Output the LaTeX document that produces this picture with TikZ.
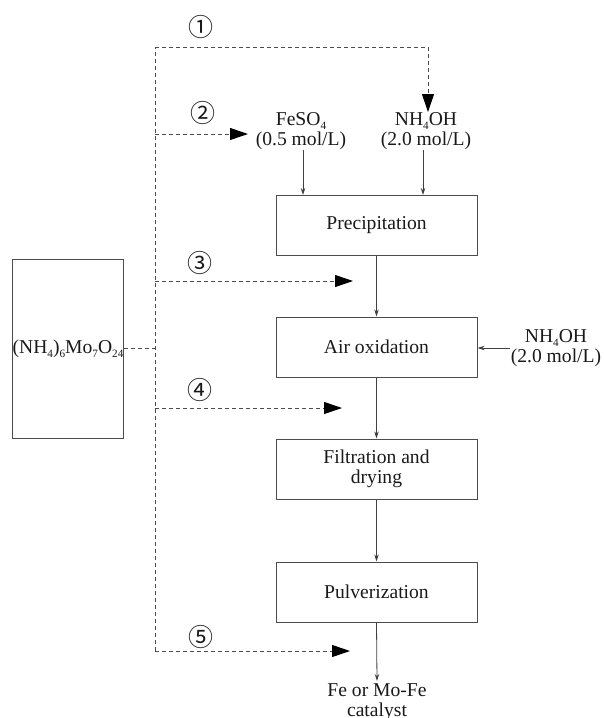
\documentclass[tikz,border=0pt]{standalone}
\usepackage{fontspec}
\setmainfont{Liberation Serif}
\newfontfamily\circfont{Noto Sans CJK SC}
\usetikzlibrary{arrows.meta}
\newcommand\chemsub[1]{\raisebox{-0.45ex}{\fontsize{5.6}{5.6}\selectfont #1}}
\begin{document}
\begin{tikzpicture}[x=0.5pt,y=-0.5pt,
  every node/.style={font=\fontsize{9.8}{10}\selectfont, text=black!90},
  stepbox/.style={draw=black!70, line width=0.5pt, minimum width=100.5pt, minimum height=30pt, inner sep=0pt, align=center},
  lbl/.style={inner sep=0pt, align=center},
  flow/.style={draw=black!75, line width=0.4pt, -{Stealth[length=3.5pt,width=2.2pt]}},
  dashline/.style={draw=black!70, line width=0.5pt, dash pattern=on 2pt off 1.5pt},
  dasharrow/.style={dashline, -{Triangle[length=9pt,width=6pt,color=black]}},
  circnum/.style={font=\circfont\fontsize{12.5}{12.5}\selectfont, inner sep=0pt}
]
\useasboundingbox (0,0) rectangle (604,718);

% source box
\node[draw=black!70, line width=0.5pt, minimum width=55pt, minimum height=89.5pt, inner sep=0pt] (src) at (68,348.5)
  {(NH\chemsub{4})\chemsub{6}Mo\chemsub{7}O\chemsub{24}};

% process boxes
\node[stepbox] (precip) at (376.5,225.5) {Precipitation};
\node[stepbox] (air) at (376.5,347) {Air oxidation};
\node[stepbox] (filt) at (376.5,469) {Filtration and\\drying};
\node[stepbox] (pulv) at (376.5,592) {Pulverization};

% reagent labels
\node[lbl] (feso) at (301,131) {FeSO\chemsub{4}\\(0.5 mol/L)};
\node[lbl] (nhtop) at (426,131) {NH\chemsub{4}OH\\(2.0 mol/L)};
\node[lbl] (nhright) at (556,348) {NH\chemsub{4}OH\\(2.0 mol/L)};
\node[lbl, anchor=north] (prod) at (377,683) {Fe or Mo-Fe\\catalyst};

% circled numbers
\node[circnum] (c1) at (201,27) {①};
\node[circnum] (c2) at (203,113) {②};
\node[circnum] (c3) at (200,263) {③};
\node[circnum] (c4) at (200,390) {④};
\node[circnum] (c5) at (201,637) {⑤};

% coordinates for dashed distribution line
\coordinate (vtop) at (155,47);
\coordinate (vmid) at (155,348.5);
\coordinate (vbot) at (155,651);
\coordinate (r1) at (428,47);
\coordinate (v2) at (155,134);
\coordinate (t2) at (248,134);
\coordinate (v3) at (155,281);
\coordinate (t3) at (353,281);
\coordinate (v4) at (155,408);
\coordinate (t4) at (342,408);
\coordinate (t5) at (350,651);
\coordinate (mainend) at (377,681);

% main flow
\draw[flow] (feso.south -| 303,0) -- (precip.north -| 303,0);
\draw[flow] (nhtop.south -| 423,0) -- (precip.north -| 423,0);
\draw[flow] (precip) -- (air);
\draw[flow] (air) -- (filt);
\draw[flow] (filt) -- (pulv);
\draw[flow] (pulv.south) -- (mainend);
\draw[flow] (nhright.west) -- (air.east |- nhright.west);

% dashed lines
\draw[dashline] (src.east |- vmid) -- (vmid);
\draw[dashline] (vbot) -- (vtop);
\draw[dasharrow] (vtop) -- (r1) -- (nhtop.north -| r1);
\draw[dasharrow] (v2) -- (t2);
\draw[dasharrow] (v3) -- (t3);
\draw[dasharrow] (v4) -- (t4);
\draw[dasharrow] (vbot) -- (t5);
\end{tikzpicture}
\end{document}
